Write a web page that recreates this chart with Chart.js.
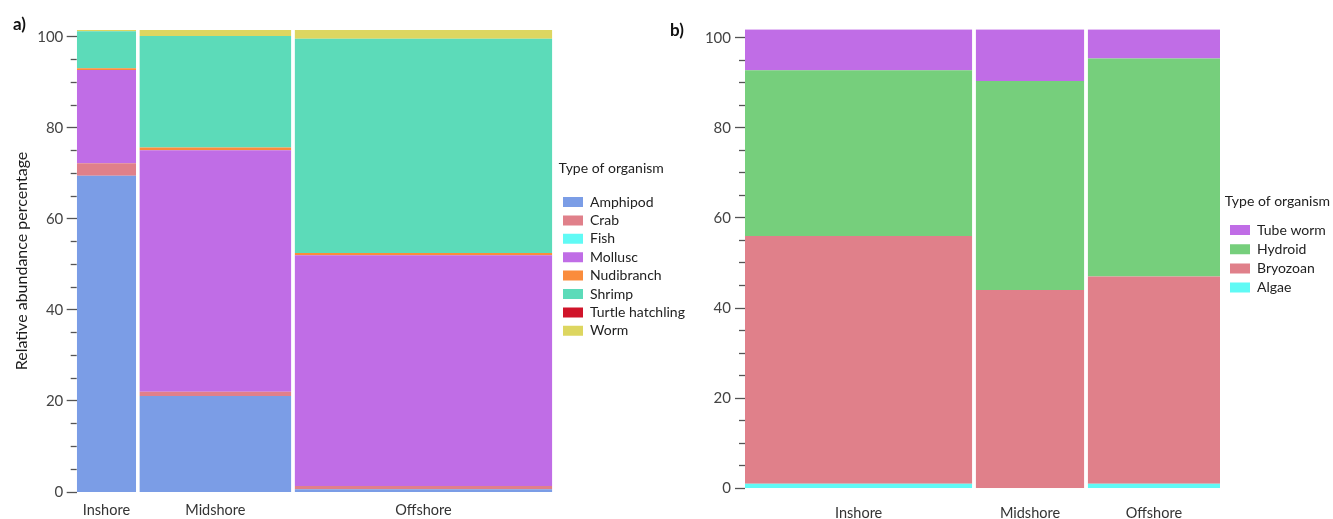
<!DOCTYPE html>
<html><head><meta charset="utf-8">
<script src="https://cdn.jsdelivr.net/npm/chart.js@4/dist/chart.umd.min.js"></script>
<style>
html,body{margin:0;padding:0;background:#fff;width:1333px;height:519px;overflow:hidden;position:relative;font-family:Lato,sans-serif}
#ca{position:absolute;left:0;top:0}
#cb{position:absolute;left:690px;top:0}
.lab{position:absolute;font:bold 17px Lato,sans-serif;color:#111;line-height:20px}
</style></head><body>
<canvas id="ca" width="700" height="519"></canvas>
<canvas id="cb" width="643" height="519"></canvas>
<div class="lab" style="left:13px;top:14px">a)</div>
<div class="lab" style="left:670px;top:20px">b)</div>
<script>
// ---------- Panel a data ----------
const sitesA = ['Inshore', 'Midshore', 'Offshore'];
const widthsA = [0.1265, 0.3235, 0.5487];          // column widths (share of samples)
const organismsA = ['Amphipod', 'Crab', 'Fish', 'Mollusc', 'Nudibranch', 'Shrimp', 'Turtle hatchling', 'Worm'];
const coloursA = ['#7b9de6', '#e0808a', '#60faf5', '#c06de6', '#fa8c3c', '#5cdbb9', '#d0142a', '#ddd660'];
const amphipod   = [69.5, 21.1, 0.6];
const crab       = [2.7, 0.9, 0.7];
const fish       = [0, 0, 0];
const mollusc    = [20.5, 53.1, 50.7];
const nudibranch = [0.4, 0.6, 0.5];
const shrimp     = [8.1, 24.5, 47.1];
const turtle     = [0, 0, 0];
const worm       = [0.3, 1.3, 1.9];
const yTicksA = [0, 20, 40, 60, 80, 100];

// ---------- Panel b data ----------
const sitesB = ['Inshore', 'Midshore', 'Offshore'];
const widthsB = [0.4855, 0.2320, 0.2826];
const organismsB = ['Tube worm', 'Hydroid', 'Bryozoan', 'Algae'];
const coloursB = ['#c06de6', '#76cf7c', '#e0808a', '#60faf5'];
const tubeWorm = [9.06, 11.46, 6.46];
const hydroid  = [36.8, 46.4, 48.4];
const bryozoan = [55.0, 44.0, 46.0];
const algae    = [1.0, 0, 1.0];
const yTicksB = [0, 20, 40, 60, 80, 100];

const FONT = 'Lato, "Liberation Sans", sans-serif';

function mosaic(sites, widths, gap, stack) {
  const datasets = [];
  const centers = [];
  let x0 = 0;
  sites.forEach((site, i) => {
    const x1 = x0 + widths[i];
    centers.push((x0 + x1) / 2);
    let base = 0;
    stack.forEach(s => {
      const v = s.values[i];
      if (v > 0) {
        datasets.push({
          label: s.name + ' – ' + site,
          data: [{x: x0, y: base + v}, {x: x1, y: base + v}],
          fill: {value: base},
          backgroundColor: s.colour,
          borderColor: 'rgba(0,0,0,0)',
          borderWidth: 0,
          pointRadius: 0,
          pointHoverRadius: 0,
          tension: 0
        });
      }
      base += v;
    });
    x0 = x1 + gap;
  });
  return {datasets, centers, end: x0 - gap};
}

const legendWidthPlugin = {
  id: 'legendWidth',
  beforeLayout(chart, args, opts) {
    const lg = chart.legend;
    if (lg && !lg._wrappedFit) {
      const orig = lg.fit;
      lg.fit = function () { orig.call(this); this.width = opts.width; };
      lg._wrappedFit = true;
    }
  }
};

function buildChart(canvas, cfg) {
  const m = mosaic(cfg.sites, cfg.widths, cfg.gap, cfg.stack);
  const minorDash = c => (c.tick && c.tick.value % 20 !== 0) ? [6, 4] : [];
  const minorOff = c => (c.tick && c.tick.value % 20 !== 0) ? 6 : 0;
  return new Chart(canvas, {
    type: 'line',
    data: {datasets: m.datasets},
    plugins: [legendWidthPlugin],
    options: {
      responsive: false,
      animation: false,
      events: [],
      layout: {padding: {top: cfg.top, left: 0, right: 0, bottom: 0}},
      scales: {
        x: {
          type: 'linear',
          min: 0,
          max: m.end + cfg.extra,
          afterBuildTicks(s) { s.ticks = m.centers.map(v => ({value: v})); },
          afterFit(s) { s.height = cfg.xHeight; },
          grid: {display: false, drawTicks: false},
          border: {display: false},
          ticks: {
            autoSkip: false, maxRotation: 0, padding: cfg.xPad,
            color: '#333', font: {family: FONT, size: 14.5},
            callback: (v, i) => cfg.sites[i]
          }
        },
        y: {
          type: 'linear',
          min: 0,
          max: cfg.yMax,
          afterFit(s) { s.width = cfg.yWidth; },
          border: {display: false},
          grid: {
            display: true, drawOnChartArea: false, drawTicks: true,
            tickLength: 10, tickColor: '#555', tickWidth: 1.3,
            tickBorderDash: minorDash, tickBorderDashOffset: minorOff
          },
          ticks: {
            stepSize: 5, includeBounds: false, autoSkip: false, padding: cfg.yPad,
            color: '#444', font: {family: FONT, size: 15},
            callback: v => cfg.yTicks.includes(v) ? String(v) : ''
          },
          title: cfg.yTitle ? {
            display: true, text: cfg.yTitle, color: '#1a1a1a',
            font: {family: FONT, size: 16}, padding: {top: 12.4, bottom: 0}
          } : {display: false}
        }
      },
      plugins: {
        tooltip: {enabled: false},
        legendWidth: {width: cfg.legendWidth},
        legend: {
          position: 'right',
          align: 'start',
          onClick: null,
          title: {
            display: true, text: 'Type of organism', color: '#222', position: 'start',
            font: {family: FONT, size: 14}, padding: cfg.titlePad
          },
          labels: {
            boxWidth: 20, boxHeight: 10, padding: cfg.legendPad, color: '#222',
            font: {family: FONT, size: 14},
            generateLabels: () => cfg.legendNames.map((n, i) => ({
              text: n, fillStyle: cfg.legendColours[i], strokeStyle: cfg.legendColours[i],
              lineWidth: 0, hidden: false, fontColor: '#222'
            }))
          }
        }
      }
    }
  });
}

buildChart(document.getElementById('ca'), {
  sites: sitesA, widths: widthsA, gap: 0.007, extra: 0.0134,
  stack: [
    {name: 'Amphipod', colour: coloursA[0], values: amphipod},
    {name: 'Crab', colour: coloursA[1], values: crab},
    {name: 'Fish', colour: coloursA[2], values: fish},
    {name: 'Mollusc', colour: coloursA[3], values: mollusc},
    {name: 'Nudibranch', colour: coloursA[4], values: nudibranch},
    {name: 'Shrimp', colour: coloursA[5], values: shrimp},
    {name: 'Turtle hatchling', colour: coloursA[6], values: turtle},
    {name: 'Worm', colour: coloursA[7], values: worm}
  ],
  legendNames: organismsA, legendColours: coloursA,
  top: 30, xHeight: 27, xPad: 10, yMax: 101.5, yWidth: 76.7, yPad: 3.4, yTicks: yTicksA,
  yTitle: 'Relative abundance percentage',
  legendWidth: 141.4, legendPad: 4.4, titlePad: {top: 131.6, bottom: 12.2}
});

buildChart(document.getElementById('cb'), {
  sites: sitesB, widths: widthsB, gap: 0.0073, extra: 0.01025,
  stack: [
    {name: 'Algae', colour: coloursB[3], values: algae},
    {name: 'Bryozoan', colour: coloursB[2], values: bryozoan},
    {name: 'Hydroid', colour: coloursB[1], values: hydroid},
    {name: 'Tube worm', colour: coloursB[0], values: tubeWorm}
  ],
  legendNames: organismsB, legendColours: coloursB,
  top: 29.3, xHeight: 30.7, xPad: 16, yMax: 101.86, yWidth: 55, yPad: 4, yTicks: yTicksB,
  yTitle: null,
  legendWidth: 108.2, legendPad: 5.2, titlePad: {top: 165, bottom: 6.7}
});
</script>
</body></html>
